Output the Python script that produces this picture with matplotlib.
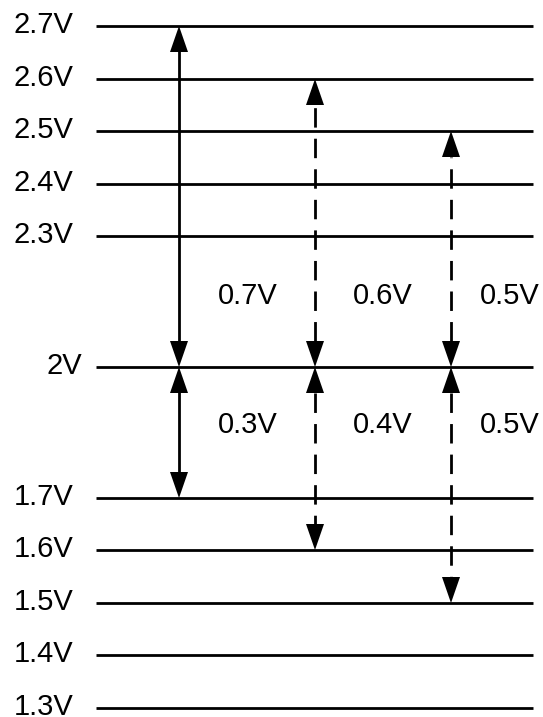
import matplotlib
matplotlib.use('Agg')
import matplotlib.pyplot as plt
from matplotlib.patches import Polygon

# voltage levels and their labels
levels = [2.7, 2.6, 2.5, 2.4, 2.3, 2.0, 1.7, 1.6, 1.5, 1.4, 1.3]
level_labels = ['2.7V', '2.6V', '2.5V', '2.4V', '2.3V', '2V', '1.7V', '1.6V', '1.5V', '1.4V', '1.3V']
# vertical position of each level in the drawing (diagram is not to scale)
level_pos = [26, 79, 131, 184, 236, 367, 498, 550, 603, 655, 708]

# swing arrows: mid level, upper level, lower level, line style
mid = 2.0
upper = [2.7, 2.6, 2.5]
lower = [1.7, 1.6, 1.5]
styles = ['solid', 'dashed', 'dashed']
arrow_x = [179, 315, 451]
label_x = [248, 383, 510]

pos = dict(zip(levels, level_pos))
plt.rcParams['font.family'] = ['Liberation Sans', 'DejaVu Sans']

fig = plt.figure(figsize=(5.43, 7.17), dpi=100)
ax = fig.add_axes([0, 0, 1, 1])
ax.set_xlim(0, 543)
ax.set_ylim(717, 0)
ax.axis('off')

for v, lab in zip(levels, level_labels):
    y = pos[v]
    ax.plot([96, 533], [y, y], color='black', lw=2, solid_capstyle='butt')
    tx = 82 if lab == '2V' else 73
    ax.text(tx, y - 1, lab, ha='right', va='center', fontsize=21)

head_l, head_w = 26, 18


def head(x, ytip, direction):
    # direction -1 pointing up, +1 pointing down
    base = ytip - direction * head_l
    ax.add_patch(Polygon([[x, ytip], [x - head_w / 2, base], [x + head_w / 2, base]],
                         closed=True, color='black', lw=0))


for x, lx, hi, lo, ls in zip(arrow_x, label_x, upper, lower, styles):
    ym = pos[mid]
    for end in (hi, lo):
        ye = pos[end]
        d = 1 if ye > ym else -1
        ax.plot([x, x], [ym + d * head_l, ye - d * head_l], color='black', lw=2,
                linestyle=ls, dashes=(7, 4) if ls == 'dashed' else (None, None))
        head(x, ye, d)
        head(x, ym, -d)
    ax.text(lx, 296, '%.1fV' % (hi - mid), ha='center', va='center', fontsize=21)
    ax.text(lx, 425, '%.1fV' % (mid - lo), ha='center', va='center', fontsize=21)

plt.savefig('out.png', dpi=100)
